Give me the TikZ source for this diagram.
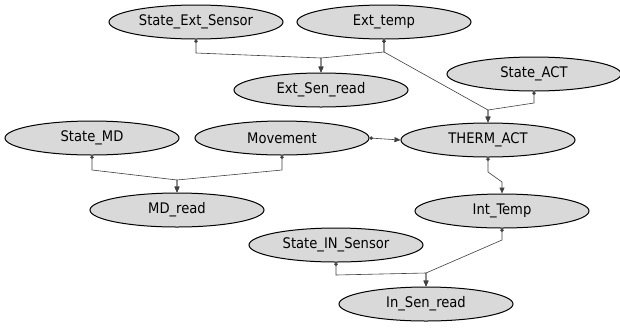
\documentclass[tikz,border=0pt]{standalone}
\usepackage{fontspec}
\setmainfont{DejaVu Sans Condensed}
\usetikzlibrary{shapes.geometric,arrows.meta}
\begin{document}
\begin{tikzpicture}[x=1bp,y=-1bp,
  var/.style={ellipse,draw=black,line width=1bp,fill=black!15,minimum width=174bp,minimum height=34bp,inner sep=0pt,font=\fontsize{14.6bp}{17bp}\selectfont},
  link/.style={draw=black!75,line width=0.6bp,{Circle[length=3.5bp]}-{Triangle[length=6bp,width=5bp]}}]
\useasboundingbox[fill=white] (0,0) rectangle (620,327);
\node[var] (sES) at (196,22) {State\_Ext\_Sensor};
\node[var] (Et) at (384,22) {Ext\_temp};
\node[var] (ESr) at (321,90) {Ext\_Sen\_read};
\node[var] (SA) at (534,74) {State\_ACT};
\node[var] (SMD) at (92,138) {State\_MD};
\node[var] (Mv) at (282,138) {Movement};
\node[var] (TA) at (488,140) {THERM\_ACT};
\node[var] (MDr) at (177,210) {MD\_read};
\node[var] (IT) at (502,211) {Int\_Temp};
\node[var] (SIS) at (336,245) {State\_IN\_Sensor};
\node[var] (ISr) at (426,304) {In\_Sen\_read};
\coordinate (b1) at (196,53);
\coordinate (b2) at (384,52);
\coordinate (m1) at (321,58);
\coordinate (m2) at (488,110);
\coordinate (b3) at (534,103);
\coordinate (b4) at (92,170);
\coordinate (b5) at (282,170);
\coordinate (m3) at (177,180);
\coordinate (b6) at (488,172);
\coordinate (m4) at (502,182);
\coordinate (b7) at (502,240);
\coordinate (b8) at (336,275);
\coordinate (m5) at (426,273);
\draw[link] (sES.south) -- (b1) -- (m1) -- (ESr.north);
\draw[link] (Et.south) -- (b2) -- (m1) -- (ESr.north);
\draw[link] (Et.south) -- (b2) -- (m2) -- (TA.north);
\draw[link] (SA.south) -- (b3) -- (m2) -- (TA.north);
\draw[link] (Mv.east) -- (TA.west);
\draw[link] (SMD.south) -- (b4) -- (m3) -- (MDr.north);
\draw[link] (Mv.south) -- (b5) -- (m3) -- (MDr.north);
\draw[link] (TA.south) -- (b6) -- (m4) -- (IT.north);
\draw[link] (IT.south) -- (b7) -- (m5) -- (ISr.north);
\draw[link] (SIS.south) -- (b8) -- (m5) -- (ISr.north);
\end{tikzpicture}
\end{document}
